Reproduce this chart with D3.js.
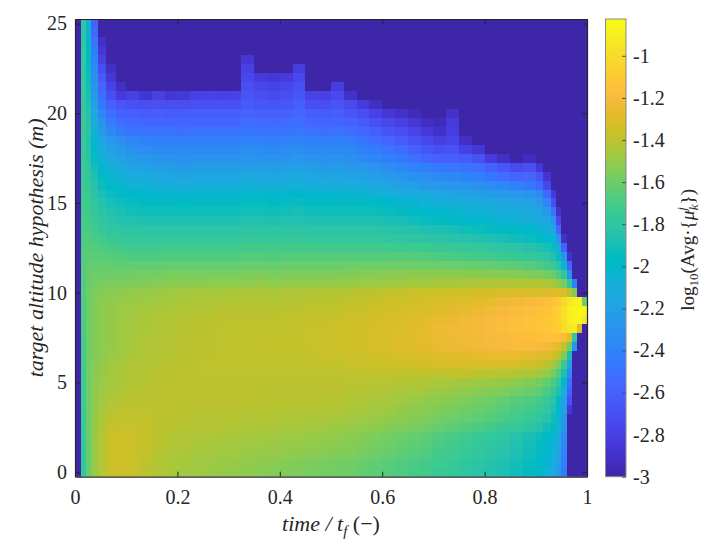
<!DOCTYPE html>
<html><head><meta charset="utf-8">
<script src="https://cdn.jsdelivr.net/npm/d3@7"></script>
<style>body{margin:0;background:#fff}svg{display:block}</style>
</head><body><svg id="chart" width="715" height="558"></svg>
<script>
// ---- data ----
const timeEdges = [0,0.012,0.022,0.032,0.045,0.06,0.08,0.1,0.125,0.15,0.175,0.2,0.225,0.25,0.275,0.3,0.325,0.35,0.375,0.4,0.425,0.45,0.475,0.5,0.525,0.55,0.575,0.6,0.625,0.65,0.675,0.7,0.725,0.75,0.775,0.8,0.825,0.85,0.875,0.9,0.915,0.93,0.94,0.95,0.96,0.97,0.98,0.99,1];
const altitudes = [25,24.5,24,23.5,23,22.5,22,21.5,21,20.5,20,19.5,19,18.5,18,17.5,17,16.5,16,15.5,15,14.5,14,13.5,13,12.5,12,11.5,11,10.5,10,9.5,9,8.5,8,7.5,7,6.5,6,5.5,5,4.5,4,3.5,3,2.5,2,1.5,1,0.5,0];
const logAvgMu = [
[-3,-1.8,-2.05,-2.6,-3,-3,-3,-3,-3,-3,  -3,-3,-3,-3,-3,-3,-3,-3,-3,-3,  -3,-3,-3,-3,-3,-3,-3,-3,-3,-3,  -3,-3,-3,-3,-3,-3,-3,-3,-3,-3,  -3,-3,-3,-3,-3,-3,-3,-3],
[-3,-1.8,-2.03,-2.55,-3,-3,-3,-3,-3,-3,  -3,-3,-3,-3,-3,-3,-3,-3,-3,-3,  -3,-3,-3,-3,-3,-3,-3,-3,-3,-3,  -3,-3,-3,-3,-3,-3,-3,-3,-3,-3,  -3,-3,-3,-3,-3,-3,-3,-3],
[-3,-1.79,-2,-2.5,-2.92,-3,-3,-3,-3,-3,  -3,-3,-3,-3,-3,-3,-3,-3,-3,-3,  -3,-3,-3,-3,-3,-3,-3,-3,-3,-3,  -3,-3,-3,-3,-3,-3,-3,-3,-3,-3,  -3,-3,-3,-3,-3,-3,-3,-3],
[-3,-1.78,-1.98,-2.45,-2.86,-3,-3,-3,-3,-3,  -3,-3,-3,-3,-3,-3,-3,-3,-3,-3,  -3,-3,-3,-3,-3,-3,-3,-3,-3,-3,  -3,-3,-3,-3,-3,-3,-3,-3,-3,-3,  -3,-3,-3,-3,-3,-3,-3,-3],
[-3,-1.78,-1.96,-2.4,-2.8,-3,-3,-3,-3,-3,  -3,-3,-3,-3,-3,-3,-2.86,-3,-3,-3,  -3,-3,-3,-3,-3,-3,-3,-3,-3,-3,  -3,-3,-3,-3,-3,-3,-3,-3,-3,-3,  -3,-3,-3,-3,-3,-3,-3,-3],
[-3,-1.77,-1.95,-2.36,-2.72,-2.92,-3,-3,-3,-3,  -3,-3,-3,-3,-3,-3,-2.8,-3,-3,-3,  -2.82,-3,-3,-3,-3,-3,-3,-3,-3,-3,  -3,-3,-3,-3,-3,-3,-3,-3,-3,-3,  -3,-3,-3,-3,-3,-3,-3,-3],
[-3,-1.77,-1.93,-2.32,-2.65,-2.86,-3,-3,-3,-3,  -3,-3,-3,-3,-3,-3,-2.75,-2.84,-2.86,-2.84,  -2.76,-3,-3,-3,-3,-3,-3,-3,-3,-3,  -3,-3,-3,-3,-3,-3,-3,-3,-3,-3,  -3,-3,-3,-3,-3,-3,-3,-3],
[-3,-1.76,-1.92,-2.28,-2.58,-2.78,-2.92,-3,-3,-3,  -3,-3,-3,-3,-3,-3,-2.72,-2.76,-2.78,-2.76,  -2.7,-3,-3,-2.82,-3,-3,-3,-3,-3,-3,  -3,-3,-3,-3,-3,-3,-3,-3,-3,-3,  -3,-3,-3,-3,-3,-3,-3,-3],
[-3,-1.76,-1.9,-2.24,-2.52,-2.7,-2.84,-2.8,-2.88,-2.8,  -2.87,-2.85,-2.8,-2.78,-2.8,-2.78,-2.68,-2.72,-2.74,-2.72,  -2.66,-2.78,-2.8,-2.74,-2.9,-3,-3,-3,-3,-3,  -3,-3,-3,-3,-3,-3,-3,-3,-3,-3,  -3,-3,-3,-3,-3,-3,-3,-3],
[-3,-1.75,-1.88,-2.2,-2.46,-2.6,-2.68,-2.7,-2.72,-2.7,  -2.72,-2.72,-2.7,-2.7,-2.7,-2.7,-2.64,-2.66,-2.68,-2.66,  -2.62,-2.7,-2.72,-2.68,-2.74,-2.84,-2.92,-3,-3,-3,  -3,-3,-3,-3,-3,-3,-3,-3,-3,-3,  -3,-3,-3,-3,-3,-3,-3,-3],
[-3,-1.75,-1.86,-2.15,-2.38,-2.52,-2.6,-2.62,-2.63,-2.62,  -2.63,-2.63,-2.62,-2.62,-2.62,-2.62,-2.58,-2.6,-2.61,-2.6,  -2.57,-2.62,-2.63,-2.62,-2.66,-2.72,-2.8,-2.86,-2.9,-2.95,  -3,-3,-2.9,-3,-3,-3,-3,-3,-3,-3,  -3,-3,-3,-3,-3,-3,-3,-3],
[-3,-1.74,-1.84,-2.1,-2.3,-2.44,-2.52,-2.55,-2.56,-2.56,  -2.56,-2.57,-2.56,-2.56,-2.56,-2.56,-2.53,-2.54,-2.55,-2.54,  -2.52,-2.56,-2.57,-2.56,-2.59,-2.64,-2.7,-2.76,-2.8,-2.86,  -2.93,-2.95,-2.84,-3,-3,-3,-3,-3,-3,-3,  -3,-3,-3,-3,-3,-3,-3,-3],
[-3,-1.74,-1.82,-2.05,-2.24,-2.37,-2.45,-2.49,-2.5,-2.5,  -2.5,-2.51,-2.5,-2.5,-2.5,-2.5,-2.48,-2.49,-2.5,-2.49,  -2.47,-2.5,-2.51,-2.5,-2.52,-2.56,-2.61,-2.67,-2.72,-2.78,  -2.85,-2.9,-2.82,-3,-3,-3,-3,-3,-3,-3,  -3,-3,-3,-3,-3,-3,-3,-3],
[-3,-1.74,-1.86,-2.03,-2.16,-2.26,-2.33,-2.38,-2.41,-2.42,  -2.42,-2.43,-2.42,-2.42,-2.42,-2.42,-2.4,-2.41,-2.42,-2.41,  -2.39,-2.42,-2.43,-2.42,-2.44,-2.48,-2.52,-2.57,-2.63,-2.69,  -2.75,-2.81,-2.77,-2.92,-3,-3,-3,-3,-3,-3,  -3,-3,-3,-3,-3,-3,-3,-3],
[-3,-1.74,-1.84,-1.99,-2.11,-2.2,-2.26,-2.31,-2.34,-2.36,  -2.36,-2.37,-2.36,-2.36,-2.36,-2.36,-2.34,-2.35,-2.36,-2.35,  -2.33,-2.36,-2.37,-2.36,-2.38,-2.42,-2.45,-2.5,-2.54,-2.6,  -2.67,-2.71,-2.69,-2.8,-2.86,-3,-3,-3,-3,-3,  -3,-3,-3,-3,-3,-3,-3,-3],
[-3,-1.74,-1.82,-1.95,-2.06,-2.14,-2.2,-2.24,-2.27,-2.29,  -2.3,-2.31,-2.3,-2.3,-2.3,-2.3,-2.28,-2.29,-2.3,-2.29,  -2.27,-2.3,-2.31,-2.3,-2.32,-2.35,-2.38,-2.42,-2.46,-2.51,  -2.56,-2.6,-2.6,-2.64,-2.69,-2.84,-2.92,-3,-2.94,-3,  -3,-3,-3,-3,-3,-3,-3,-3],
[-3,-1.74,-1.8,-1.91,-2.01,-2.08,-2.13,-2.17,-2.2,-2.22,  -2.23,-2.24,-2.23,-2.23,-2.23,-2.23,-2.21,-2.22,-2.23,-2.22,  -2.2,-2.23,-2.24,-2.23,-2.25,-2.27,-2.3,-2.33,-2.36,-2.4,  -2.43,-2.46,-2.47,-2.49,-2.53,-2.6,-2.66,-2.74,-2.7,-2.86,  -3,-3,-3,-3,-3,-3,-3,-3],
[-3,-1.73,-1.78,-1.88,-1.97,-2.03,-2.08,-2.11,-2.13,-2.15,  -2.16,-2.17,-2.16,-2.16,-2.16,-2.16,-2.14,-2.15,-2.16,-2.15,  -2.13,-2.16,-2.17,-2.16,-2.18,-2.2,-2.22,-2.25,-2.28,-2.31,  -2.34,-2.37,-2.38,-2.4,-2.43,-2.48,-2.53,-2.58,-2.57,-2.68,  -2.88,-3,-3,-3,-3,-3,-3,-3],
[-3,-1.73,-1.76,-1.85,-1.93,-1.99,-2.03,-2.06,-2.07,-2.08,  -2.09,-2.1,-2.09,-2.09,-2.09,-2.09,-2.08,-2.08,-2.09,-2.08,  -2.07,-2.09,-2.1,-2.09,-2.1,-2.11,-2.13,-2.16,-2.19,-2.22,  -2.25,-2.27,-2.28,-2.3,-2.32,-2.35,-2.38,-2.42,-2.46,-2.56,  -2.75,-3,-3,-3,-3,-3,-3,-3],
[-3,-1.72,-1.74,-1.82,-1.89,-1.94,-1.98,-2,-2.01,-2.02,  -2.02,-2.03,-2.02,-2.02,-2.02,-2.02,-2.01,-2.01,-2.02,-2.01,  -2,-2.02,-2.03,-2.02,-2.03,-2.04,-2.06,-2.08,-2.1,-2.12,  -2.14,-2.16,-2.17,-2.19,-2.21,-2.23,-2.25,-2.27,-2.3,-2.36,  -2.55,-2.85,-3,-3,-3,-3,-3,-3],
[-3,-1.72,-1.73,-1.79,-1.85,-1.9,-1.93,-1.95,-1.96,-1.96,  -1.96,-1.97,-1.96,-1.96,-1.96,-1.96,-1.95,-1.95,-1.96,-1.95,  -1.94,-1.96,-1.97,-1.96,-1.96,-1.97,-1.98,-2,-2.02,-2.04,  -2.06,-2.08,-2.09,-2.1,-2.12,-2.14,-2.16,-2.18,-2.2,-2.24,  -2.38,-2.7,-3,-3,-3,-3,-3,-3],
[-3,-1.71,-1.72,-1.77,-1.82,-1.86,-1.89,-1.91,-1.92,-1.92,  -1.92,-1.93,-1.92,-1.92,-1.92,-1.92,-1.91,-1.91,-1.92,-1.91,  -1.9,-1.92,-1.92,-1.92,-1.92,-1.92,-1.93,-1.94,-1.96,-1.98,  -2,-2.02,-2.03,-2.05,-2.06,-2.08,-2.1,-2.12,-2.14,-2.18,  -2.26,-2.5,-2.9,-3,-3,-3,-3,-3],
[-3,-1.7,-1.71,-1.75,-1.79,-1.83,-1.86,-1.87,-1.88,-1.88,  -1.88,-1.88,-1.88,-1.88,-1.88,-1.88,-1.87,-1.87,-1.88,-1.87,  -1.87,-1.88,-1.88,-1.88,-1.88,-1.88,-1.88,-1.89,-1.9,-1.92,  -1.94,-1.96,-1.97,-1.99,-2.01,-2.03,-2.05,-2.07,-2.09,-2.12,  -2.17,-2.3,-2.75,-3,-3,-3,-3,-3],
[-3,-1.69,-1.69,-1.72,-1.76,-1.79,-1.81,-1.82,-1.83,-1.83,  -1.83,-1.83,-1.83,-1.83,-1.83,-1.83,-1.82,-1.82,-1.83,-1.82,  -1.82,-1.83,-1.83,-1.83,-1.83,-1.83,-1.83,-1.84,-1.85,-1.86,  -1.88,-1.89,-1.9,-1.92,-1.93,-1.95,-1.97,-1.99,-2.01,-2.04,  -2.08,-2.18,-2.55,-3,-3,-3,-3,-3],
[-3,-1.68,-1.67,-1.69,-1.72,-1.75,-1.77,-1.78,-1.78,-1.78,  -1.78,-1.78,-1.78,-1.78,-1.78,-1.78,-1.77,-1.77,-1.78,-1.77,  -1.77,-1.78,-1.78,-1.78,-1.78,-1.78,-1.78,-1.79,-1.8,-1.81,  -1.82,-1.83,-1.84,-1.85,-1.87,-1.88,-1.9,-1.92,-1.94,-1.96,  -1.99,-2.05,-2.3,-2.9,-3,-3,-3,-3],
[-3,-1.67,-1.65,-1.66,-1.68,-1.7,-1.72,-1.73,-1.73,-1.73,  -1.72,-1.72,-1.72,-1.72,-1.72,-1.72,-1.71,-1.71,-1.72,-1.71,  -1.71,-1.72,-1.72,-1.72,-1.72,-1.72,-1.72,-1.72,-1.73,-1.73,  -1.74,-1.75,-1.76,-1.77,-1.78,-1.8,-1.81,-1.83,-1.85,-1.87,  -1.9,-1.95,-2.1,-2.6,-3,-3,-3,-3],
[-3,-1.67,-1.64,-1.64,-1.65,-1.66,-1.67,-1.68,-1.68,-1.68,  -1.67,-1.67,-1.67,-1.67,-1.67,-1.67,-1.66,-1.66,-1.67,-1.66,  -1.66,-1.66,-1.66,-1.66,-1.66,-1.66,-1.66,-1.66,-1.66,-1.67,  -1.67,-1.68,-1.69,-1.7,-1.71,-1.72,-1.74,-1.76,-1.78,-1.8,  -1.83,-1.87,-1.95,-2.3,-2.9,-3,-3,-3],
[-3,-1.66,-1.63,-1.62,-1.62,-1.62,-1.63,-1.63,-1.63,-1.63,  -1.62,-1.62,-1.62,-1.62,-1.62,-1.62,-1.61,-1.61,-1.62,-1.61,  -1.61,-1.61,-1.61,-1.61,-1.6,-1.6,-1.6,-1.6,-1.6,-1.6,  -1.6,-1.6,-1.6,-1.61,-1.61,-1.62,-1.63,-1.64,-1.66,-1.68,  -1.71,-1.75,-1.82,-2.05,-2.6,-3,-3,-3],
[-3,-1.66,-1.62,-1.6,-1.6,-1.6,-1.6,-1.59,-1.58,-1.58,  -1.57,-1.57,-1.57,-1.57,-1.57,-1.57,-1.56,-1.56,-1.57,-1.56,  -1.56,-1.56,-1.56,-1.55,-1.55,-1.54,-1.54,-1.53,-1.53,-1.52,  -1.52,-1.52,-1.52,-1.52,-1.52,-1.53,-1.53,-1.54,-1.55,-1.56,  -1.58,-1.62,-1.68,-1.8,-2.3,-3,-3,-3],
[-3,-1.66,-1.61,-1.58,-1.57,-1.56,-1.56,-1.55,-1.54,-1.53,  -1.52,-1.52,-1.52,-1.51,-1.51,-1.51,-1.51,-1.5,-1.51,-1.5,  -1.5,-1.5,-1.5,-1.49,-1.49,-1.48,-1.48,-1.47,-1.47,-1.46,  -1.46,-1.45,-1.45,-1.44,-1.44,-1.43,-1.43,-1.43,-1.43,-1.43,  -1.44,-1.46,-1.5,-1.58,-1.8,-2.4,-3,-3],
[-3,-1.66,-1.6,-1.56,-1.54,-1.53,-1.52,-1.51,-1.5,-1.49,  -1.48,-1.47,-1.46,-1.46,-1.46,-1.45,-1.45,-1.45,-1.45,-1.44,  -1.44,-1.44,-1.43,-1.43,-1.42,-1.41,-1.4,-1.39,-1.38,-1.37,  -1.37,-1.36,-1.35,-1.35,-1.34,-1.34,-1.33,-1.33,-1.32,-1.32,  -1.31,-1.3,-1.3,-1.32,-1.4,-1.55,-3,-3],
[-3,-1.67,-1.6,-1.56,-1.53,-1.51,-1.5,-1.49,-1.48,-1.47,  -1.46,-1.45,-1.44,-1.44,-1.43,-1.43,-1.43,-1.43,-1.43,-1.42,  -1.42,-1.41,-1.41,-1.4,-1.39,-1.38,-1.37,-1.36,-1.35,-1.34,  -1.33,-1.32,-1.31,-1.3,-1.28,-1.27,-1.25,-1.23,-1.21,-1.19,  -1.17,-1.14,-1.1,-1.02,-0.93,-0.89,-0.88,-1.6],
[-3,-1.67,-1.6,-1.55,-1.52,-1.5,-1.48,-1.47,-1.46,-1.45,  -1.44,-1.43,-1.42,-1.42,-1.41,-1.41,-1.41,-1.41,-1.41,-1.4,  -1.4,-1.39,-1.39,-1.38,-1.37,-1.36,-1.35,-1.34,-1.33,-1.32,  -1.31,-1.3,-1.28,-1.27,-1.25,-1.23,-1.21,-1.19,-1.17,-1.15,  -1.13,-1.1,-1.06,-0.98,-0.88,-0.85,-0.84,-0.84],
[-3,-1.68,-1.6,-1.55,-1.52,-1.5,-1.48,-1.47,-1.45,-1.44,  -1.43,-1.42,-1.41,-1.41,-1.4,-1.4,-1.4,-1.4,-1.4,-1.39,  -1.39,-1.38,-1.38,-1.37,-1.36,-1.35,-1.34,-1.33,-1.32,-1.3,  -1.29,-1.27,-1.26,-1.24,-1.23,-1.21,-1.19,-1.17,-1.15,-1.13,  -1.11,-1.09,-1.06,-0.99,-0.9,-0.86,-0.86,-0.93],
[-3,-1.68,-1.6,-1.55,-1.52,-1.5,-1.48,-1.46,-1.45,-1.44,  -1.43,-1.42,-1.41,-1.4,-1.4,-1.39,-1.39,-1.39,-1.39,-1.38,  -1.38,-1.37,-1.37,-1.36,-1.35,-1.34,-1.33,-1.32,-1.3,-1.29,  -1.27,-1.25,-1.24,-1.23,-1.22,-1.2,-1.18,-1.16,-1.15,-1.13,  -1.12,-1.1,-1.08,-1,-0.94,-0.92,-1.3,-3],
[-3,-1.69,-1.6,-1.55,-1.52,-1.5,-1.47,-1.46,-1.44,-1.43,  -1.42,-1.41,-1.4,-1.4,-1.39,-1.39,-1.39,-1.39,-1.38,-1.38,  -1.38,-1.37,-1.37,-1.36,-1.35,-1.34,-1.33,-1.32,-1.3,-1.29,  -1.27,-1.26,-1.25,-1.24,-1.23,-1.21,-1.2,-1.18,-1.17,-1.16,  -1.15,-1.14,-1.14,-1.18,-1.3,-1.8,-3,-3],
[-3,-1.69,-1.6,-1.55,-1.52,-1.5,-1.48,-1.46,-1.44,-1.43,  -1.42,-1.41,-1.4,-1.4,-1.39,-1.39,-1.39,-1.38,-1.38,-1.38,  -1.38,-1.37,-1.37,-1.36,-1.35,-1.34,-1.33,-1.32,-1.3,-1.29,  -1.28,-1.26,-1.25,-1.24,-1.23,-1.22,-1.21,-1.2,-1.2,-1.21,  -1.22,-1.25,-1.3,-1.38,-1.6,-2.3,-3,-3],
[-3,-1.7,-1.6,-1.55,-1.52,-1.49,-1.47,-1.45,-1.44,-1.43,  -1.42,-1.41,-1.4,-1.4,-1.39,-1.39,-1.39,-1.38,-1.38,-1.38,  -1.38,-1.38,-1.37,-1.37,-1.36,-1.36,-1.35,-1.34,-1.33,-1.32,  -1.31,-1.3,-1.29,-1.28,-1.27,-1.26,-1.26,-1.26,-1.27,-1.28,  -1.3,-1.34,-1.41,-1.55,-1.9,-3,-3,-3],
[-3,-1.7,-1.6,-1.54,-1.5,-1.48,-1.46,-1.44,-1.43,-1.42,  -1.41,-1.4,-1.4,-1.39,-1.39,-1.39,-1.39,-1.39,-1.39,-1.39,  -1.39,-1.39,-1.38,-1.38,-1.37,-1.37,-1.36,-1.36,-1.35,-1.35,  -1.34,-1.33,-1.33,-1.32,-1.32,-1.32,-1.33,-1.33,-1.35,-1.37,  -1.41,-1.47,-1.56,-1.75,-2.2,-3,-3,-3],
[-3,-1.71,-1.6,-1.54,-1.5,-1.47,-1.45,-1.43,-1.42,-1.41,  -1.41,-1.4,-1.4,-1.4,-1.4,-1.4,-1.4,-1.4,-1.4,-1.4,  -1.4,-1.4,-1.4,-1.4,-1.39,-1.39,-1.39,-1.39,-1.39,-1.39,  -1.39,-1.39,-1.39,-1.39,-1.4,-1.41,-1.42,-1.43,-1.45,-1.47,  -1.51,-1.58,-1.68,-1.88,-2.35,-3,-3,-3],
[-3,-1.71,-1.6,-1.53,-1.49,-1.47,-1.45,-1.43,-1.42,-1.41,  -1.4,-1.4,-1.4,-1.4,-1.4,-1.4,-1.4,-1.4,-1.4,-1.4,  -1.4,-1.4,-1.4,-1.4,-1.41,-1.41,-1.42,-1.42,-1.43,-1.43,  -1.44,-1.45,-1.46,-1.47,-1.48,-1.49,-1.5,-1.52,-1.55,-1.58,  -1.63,-1.7,-1.8,-2,-2.5,-3,-3,-3],
[-3,-1.72,-1.6,-1.52,-1.48,-1.46,-1.44,-1.42,-1.41,-1.41,  -1.4,-1.4,-1.4,-1.4,-1.4,-1.4,-1.4,-1.4,-1.41,-1.41,  -1.41,-1.41,-1.41,-1.41,-1.42,-1.42,-1.43,-1.44,-1.45,-1.46,  -1.47,-1.49,-1.5,-1.51,-1.53,-1.54,-1.56,-1.58,-1.61,-1.64,  -1.69,-1.77,-1.88,-2.1,-2.6,-3,-3,-3],
[-3,-1.72,-1.6,-1.52,-1.47,-1.44,-1.42,-1.41,-1.41,-1.4,  -1.4,-1.4,-1.4,-1.4,-1.4,-1.4,-1.4,-1.41,-1.41,-1.41,  -1.41,-1.41,-1.42,-1.42,-1.43,-1.44,-1.45,-1.46,-1.48,-1.49,  -1.51,-1.52,-1.54,-1.56,-1.58,-1.6,-1.62,-1.65,-1.68,-1.71,  -1.76,-1.84,-1.96,-2.2,-2.7,-3,-3,-3],
[-3,-1.73,-1.6,-1.51,-1.46,-1.42,-1.4,-1.4,-1.4,-1.4,  -1.4,-1.41,-1.41,-1.41,-1.41,-1.41,-1.42,-1.42,-1.42,-1.42,  -1.43,-1.43,-1.43,-1.44,-1.45,-1.46,-1.47,-1.48,-1.5,-1.52,  -1.53,-1.55,-1.57,-1.59,-1.61,-1.63,-1.66,-1.69,-1.72,-1.76,  -1.8,-1.88,-1.99,-2.22,-2.85,-3,-3,-3],
[-3,-1.74,-1.6,-1.5,-1.44,-1.4,-1.39,-1.39,-1.39,-1.4,  -1.41,-1.41,-1.42,-1.42,-1.42,-1.42,-1.43,-1.43,-1.43,-1.44,  -1.44,-1.45,-1.45,-1.46,-1.47,-1.48,-1.49,-1.51,-1.52,-1.54,  -1.56,-1.58,-1.6,-1.62,-1.64,-1.66,-1.69,-1.72,-1.76,-1.8,  -1.85,-1.92,-2.02,-2.25,-3,-3,-3,-3],
[-3,-1.75,-1.61,-1.5,-1.43,-1.38,-1.37,-1.37,-1.38,-1.4,  -1.41,-1.42,-1.43,-1.43,-1.43,-1.44,-1.44,-1.45,-1.45,-1.46,  -1.46,-1.47,-1.48,-1.49,-1.5,-1.51,-1.52,-1.54,-1.56,-1.58,  -1.6,-1.62,-1.64,-1.67,-1.69,-1.72,-1.75,-1.78,-1.82,-1.86,  -1.91,-1.98,-2.07,-2.3,-3,-3,-3,-3],
[-3,-1.76,-1.61,-1.5,-1.42,-1.37,-1.35,-1.36,-1.38,-1.4,  -1.42,-1.43,-1.44,-1.44,-1.45,-1.45,-1.46,-1.46,-1.47,-1.48,  -1.48,-1.49,-1.5,-1.51,-1.52,-1.54,-1.56,-1.58,-1.6,-1.62,  -1.64,-1.67,-1.69,-1.72,-1.75,-1.78,-1.81,-1.85,-1.89,-1.93,  -1.97,-2.03,-2.12,-2.35,-3,-3,-3,-3],
[-3,-1.76,-1.62,-1.5,-1.42,-1.37,-1.35,-1.36,-1.38,-1.41,  -1.43,-1.44,-1.45,-1.46,-1.46,-1.47,-1.48,-1.48,-1.49,-1.5,  -1.5,-1.51,-1.52,-1.53,-1.54,-1.56,-1.58,-1.6,-1.62,-1.64,  -1.66,-1.69,-1.71,-1.74,-1.77,-1.8,-1.83,-1.87,-1.91,-1.95,  -1.99,-2.06,-2.15,-2.38,-3,-3,-3,-3],
[-3,-1.77,-1.62,-1.5,-1.42,-1.37,-1.35,-1.36,-1.39,-1.42,  -1.44,-1.45,-1.46,-1.47,-1.48,-1.48,-1.49,-1.5,-1.5,-1.51,  -1.52,-1.53,-1.54,-1.55,-1.56,-1.58,-1.6,-1.62,-1.64,-1.66,  -1.68,-1.71,-1.73,-1.76,-1.79,-1.82,-1.85,-1.88,-1.92,-1.96,  -2.01,-2.08,-2.18,-2.4,-3,-3,-3,-3],
[-3,-1.78,-1.62,-1.5,-1.42,-1.37,-1.35,-1.37,-1.4,-1.43,  -1.45,-1.46,-1.47,-1.48,-1.49,-1.5,-1.51,-1.52,-1.53,-1.54,  -1.55,-1.56,-1.57,-1.58,-1.59,-1.61,-1.63,-1.65,-1.67,-1.69,  -1.71,-1.73,-1.76,-1.79,-1.82,-1.85,-1.88,-1.91,-1.95,-1.98,  -2.04,-2.11,-2.22,-2.43,-3,-3,-3,-3],
[-3,-1.78,-1.62,-1.5,-1.42,-1.37,-1.35,-1.37,-1.4,-1.43,  -1.45,-1.47,-1.48,-1.49,-1.5,-1.51,-1.52,-1.53,-1.54,-1.55,  -1.56,-1.57,-1.58,-1.59,-1.6,-1.62,-1.64,-1.66,-1.68,-1.7,  -1.72,-1.75,-1.77,-1.8,-1.83,-1.86,-1.89,-1.92,-1.96,-2,  -2.06,-2.14,-2.25,-2.45,-3,-3,-3,-3]
];
const xTickValues = [0, 0.2, 0.4, 0.6, 0.8, 1];
const yTickValues = [0, 5, 10, 15, 20, 25];
const colorbarTicks = [-3, -2.8, -2.6, -2.4, -2.2, -2, -1.8, -1.6, -1.4, -1.2, -1];

// ---- style: MATLAB parula colormap ----
const parula = [[0.2422,0.1504,0.6603],[0.2504,0.165,0.7076],[0.2578,0.1818,0.7511],[0.2647,0.1978,0.7952],[0.2706,0.2147,0.8364],[0.2751,0.2342,0.871],[0.2783,0.2559,0.8991],[0.2803,0.2782,0.9221],[0.2813,0.3006,0.9414],[0.281,0.3228,0.9579],[0.2795,0.3447,0.9717],[0.276,0.3667,0.9829],[0.2699,0.3892,0.9906],[0.2602,0.4123,0.9952],[0.244,0.4358,0.9988],[0.2206,0.4603,0.9973],[0.1963,0.4847,0.9892],[0.1834,0.5074,0.9798],[0.1786,0.5289,0.9682],[0.1764,0.5499,0.952],[0.1687,0.5703,0.9359],[0.154,0.5902,0.9218],[0.146,0.6091,0.9079],[0.138,0.6276,0.8973],[0.1248,0.6459,0.8883],[0.1113,0.6635,0.8763],[0.0952,0.6798,0.8598],[0.0689,0.6948,0.8394],[0.0297,0.7082,0.8163],[0.0036,0.7203,0.7917],[0.0067,0.7312,0.766],[0.0433,0.7411,0.7394],[0.0964,0.75,0.712],[0.1408,0.7584,0.6842],[0.1717,0.767,0.6554],[0.1938,0.7758,0.6251],[0.2161,0.7843,0.5923],[0.247,0.7918,0.5567],[0.2906,0.7973,0.5188],[0.3406,0.8008,0.4789],[0.3909,0.8029,0.4354],[0.4456,0.8024,0.3909],[0.5044,0.7993,0.348],[0.5616,0.7942,0.3045],[0.6174,0.7876,0.2612],[0.672,0.7793,0.2227],[0.7242,0.7698,0.191],[0.7738,0.7598,0.1646],[0.8203,0.7498,0.1535],[0.8634,0.7406,0.1596],[0.9035,0.733,0.1774],[0.9393,0.7288,0.21],[0.9728,0.7298,0.2394],[0.9956,0.7434,0.2371],[0.997,0.7659,0.2199],[0.9952,0.7893,0.2028],[0.9892,0.8136,0.1885],[0.9786,0.8386,0.1766],[0.9676,0.8639,0.1643],[0.961,0.889,0.1537],[0.9597,0.9135,0.1423],[0.9628,0.9373,0.1265],[0.9691,0.9606,0.1064],[0.9769,0.9839,0.0805]];
const parulaColors = parula.map(c => d3.rgb(c[0]*255, c[1]*255, c[2]*255).formatHex());

const FONT = "'Liberation Serif', 'Times New Roman', serif";
const INK = "#262626";
const svg = d3.select('#chart');
const P = {left: 75, right: 587, top: 19, bottom: 476.7};
const CB = {left: 605.5, right: 626, top: 19, bottom: 476.7};

const x = d3.scaleLinear().domain([0, 1]).range([P.left, P.right]);
const y = d3.scaleLinear().domain([-0.25, 25.25]).range([P.bottom, P.top]);
const cMin = -3, cMax = -0.825;
const color = d3.scaleSequential(d3.piecewise(d3.interpolateRgb, parulaColors)).domain([cMin, cMax]).clamp(true);

const defs = svg.append('defs');
defs.append('clipPath').attr('id', 'plotclip').append('rect')
  .attr('x', P.left).attr('y', P.top).attr('width', P.right - P.left).attr('height', P.bottom - P.top);

const cells = [];
altitudes.forEach((a, i) => {
  logAvgMu[i].forEach((v, j) => {
    cells.push({a: a, t0: timeEdges[j], t1: timeEdges[j + 1], v: v});
  });
});
svg.append('g').attr('clip-path', 'url(#plotclip)').attr('shape-rendering', 'crispEdges')
  .selectAll('rect').data(cells).join('rect')
  .attr('x', d => x(d.t0))
  .attr('y', d => y(d.a + 0.25))
  .attr('width', d => x(d.t1) - x(d.t0) + 0.6)
  .attr('height', d => y(d.a - 0.25) - y(d.a + 0.25) + 0.6)
  .attr('fill', d => color(d.v));

function styleAxis(g) {
  g.selectAll('path.domain').attr('stroke', INK).attr('stroke-width', 1.2);
  g.selectAll('.tick line').attr('stroke', INK).attr('stroke-width', 1);
  g.selectAll('.tick text').attr('fill', INK).style('font-family', FONT).style('font-size', '20px');
}
const fmt = d => String(d);
svg.append('g').attr('transform', `translate(0,${P.bottom})`)
  .call(d3.axisBottom(x).tickValues(xTickValues).tickFormat(fmt).tickSizeInner(-5).tickSizeOuter(0).tickPadding(13))
  .call(styleAxis);
svg.append('g').attr('transform', `translate(0,${P.top})`)
  .call(d3.axisTop(x).tickValues(xTickValues).tickFormat('').tickSizeInner(-5).tickSizeOuter(0))
  .call(styleAxis);
svg.append('g').attr('transform', `translate(${P.left},0)`)
  .call(d3.axisLeft(y).tickValues(yTickValues).tickFormat(fmt).tickSizeInner(-5).tickSizeOuter(0).tickPadding(8))
  .call(styleAxis);
svg.append('g').attr('transform', `translate(${P.right},0)`)
  .call(d3.axisRight(y).tickValues(yTickValues).tickFormat('').tickSizeInner(-5).tickSizeOuter(0))
  .call(styleAxis);

// colorbar
const cb = d3.scaleLinear().domain([cMin, cMax]).range([CB.bottom, CB.top]);
const grad = defs.append('linearGradient').attr('id', 'cbgrad')
  .attr('x1', 0).attr('y1', 1).attr('x2', 0).attr('y2', 0);
parulaColors.forEach((c, i) => grad.append('stop').attr('offset', i / (parulaColors.length - 1)).attr('stop-color', c));
svg.append('rect').attr('x', CB.left).attr('y', CB.top).attr('width', CB.right - CB.left).attr('height', CB.bottom - CB.top)
  .attr('fill', 'url(#cbgrad)').attr('stroke', '#8a8a8a').attr('stroke-width', 1);
const cbAxis = svg.append('g').attr('transform', `translate(${CB.right},0)`)
  .call(d3.axisRight(cb).tickValues(colorbarTicks).tickFormat(fmt).tickSizeInner(-4).tickSizeOuter(0).tickPadding(7))
  .call(styleAxis);
cbAxis.select('path.domain').remove();
cbAxis.selectAll('.tick line').attr('stroke', '#555');

// axis labels
const xl = svg.append('text').attr('x', (P.left + P.right) / 2).attr('y', 531)
  .attr('text-anchor', 'middle').attr('fill', INK).style('font-family', FONT).style('font-size', '22px');
xl.append('tspan').style('font-style', 'italic').text('time / t');
xl.append('tspan').style('font-style', 'italic').style('font-size', '15px').attr('dy', 5).text('f');
xl.append('tspan').attr('dy', -5).text(' (\u2212)');

svg.append('text').attr('transform', `translate(43,${(P.top + P.bottom) / 2}) rotate(-90)`)
  .attr('text-anchor', 'middle').attr('fill', INK).style('font-family', FONT).style('font-size', '22px')
  .style('font-style', 'italic').text('target altitude hypothesis (m)');

const cl = svg.append('text').attr('transform', `translate(694,${(P.top + P.bottom) / 2 + 2}) rotate(-90)`)
  .attr('text-anchor', 'middle').attr('fill', INK).style('font-family', FONT).style('font-size', '19px');
cl.append('tspan').text('log');
cl.append('tspan').style('font-size', '13px').attr('dy', 4).text('10');
cl.append('tspan').attr('dy', -4).text('(Avg\u00b7{');
cl.append('tspan').style('font-style', 'italic').text('\u03bc');
cl.append('tspan').style('font-style', 'italic').style('font-size', '13px').attr('dy', -8).text('j');
cl.append('tspan').style('font-style', 'italic').style('font-size', '13px').attr('dx', -3).attr('dy', 12).text('k');
cl.append('tspan').attr('dy', -4).text('})');
</script></body></html>
